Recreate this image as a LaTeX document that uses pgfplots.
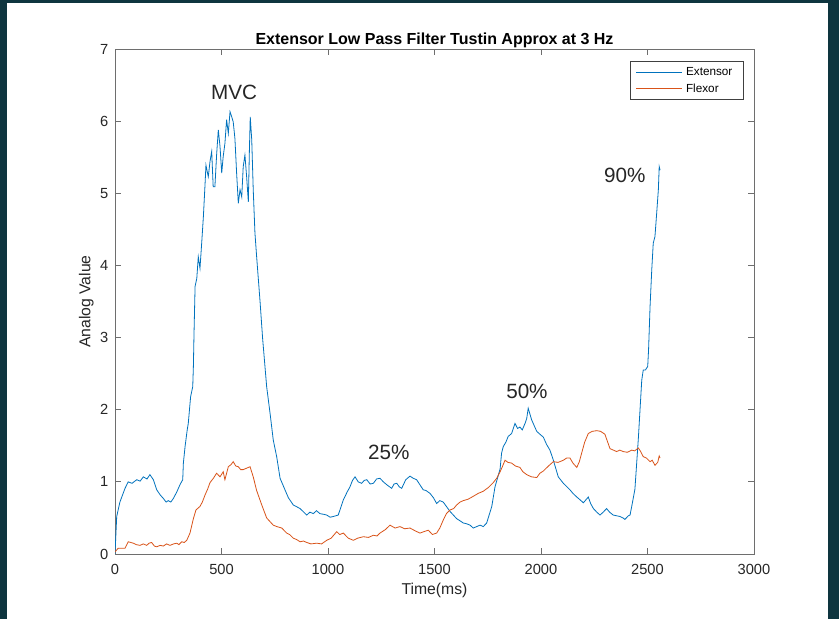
\documentclass[border=0pt]{standalone}
\usepackage{pgfplots}
\pgfplotsset{compat=1.18}
\usepackage{fontspec}
\setmainfont{Liberation Sans}
\definecolor{bgdark}{RGB}{14,53,63}
\definecolor{mblue}{RGB}{0,114,189}
\definecolor{morange}{RGB}{217,83,25}
\definecolor{axgray}{RGB}{110,110,110}
\begin{document}
\begin{tikzpicture}
\begin{scope}[x=0.75pt,y=-0.75pt]
\fill[bgdark] (0,0) rectangle (839,619);
\fill[white] (7,3) rectangle (828,619);
\end{scope}
\begin{axis}[
  at={(86.25pt,-415.5pt)}, anchor=south west,
  scale only axis, width=479.25pt, height=378.75pt,
  xmin=0, xmax=3000, ymin=0, ymax=7,
  xtick={0,500,...,3000}, ytick={0,1,...,7},
  tick align=inside, major tick length=4.5pt,
  axis line style={axgray, line width=0.6pt},
  every tick/.style={axgray, line width=0.6pt},
  /pgf/number format/assume math mode=true,
  /pgf/number format/set thousands separator={},
  tick label style={font=\fontsize{11}{12}\selectfont, text=black!85},
  xticklabel style={yshift=-4.3pt},
  yticklabel style={xshift=-1.5pt},
  title={\textbf{Extensor Low Pass Filter Tustin Approx at 3 Hz}},
  title style={font=\fontsize{12}{14}\selectfont, at={(axis description cs:0.5,1)}, anchor=base, inner sep=0pt, yshift=-2.25pt},
  xlabel={Time(ms)},
  xlabel style={font=\fontsize{11.8}{13}\selectfont, at={(axis description cs:0.5,0)}, anchor=center, yshift=-27pt, text=black!85},
  ylabel={Analog Value},
  ylabel style={font=\fontsize{11.8}{13}\selectfont, at={(axis description cs:-0.0449,0.5)}, anchor=center, text=black!85},
  legend style={at={(rel axis cs:0.9844,0.9762)}, anchor=north east, draw=black!75, line width=0.5pt,
    font=\fontsize{8.8}{10}\selectfont, inner xsep=4.5pt, inner ysep=3pt, row sep=2.5pt,
    nodes={inner sep=1pt, text height=6.5pt, text depth=1.5pt}},
  legend cell align=left,
  legend image code/.code={\draw[#1] (0pt,0pt) -- (34.5pt,0pt); \path (36pt,0pt);},
]
\addplot[mblue, line width=0.6pt] coordinates {
(0,0) (8,0.52) (23,0.72) (47,0.91) (62,1.00) (80,0.98) (102,1.03) (118,1.01) (133,1.07) (150,1.04) (164,1.10) (180,1.03)
(196,0.89) (212,0.82) (227,0.77) (240,0.72) (250,0.74) (262,0.72) (274,0.77) (290,0.86) (305,0.96) (318,1.03)
(321,1.26) (329,1.49) (339,1.72) (344,1.81) (355,2.18) (365,2.32) (368,2.60) (371,3.06) (376,3.71)
(384,3.82) (391,4.12) (399,3.96) (407,4.31) (415,4.68) (423,5.14) (427,5.39) (438,5.23) (446,5.44)
(454,5.58) (461,5.09) (469,5.09) (477,5.53) (485,5.88) (493,5.65) (501,5.28) (508,5.51) (516,5.69)
(524,6.02) (532,5.83) (540,6.13) (548,6.06) (555,5.99) (563,5.76) (571,5.28) (579,4.86) (587,5.05)
(595,4.95) (602,5.37) (610,5.53) (618,5.23) (626,4.88) (631,5.60) (635,6.06) (642,5.74) (649,5.05)
(657,4.45) (665,4.12) (681,3.50) (693,2.99) (712,2.32) (728,1.95) (743,1.58) (759,1.35) (775,1.05)
(798,0.89) (814,0.78) (837,0.68) (869,0.63) (900,0.54) (915,0.58) (931,0.56) (946,0.60) (962,0.56) (980,0.55) (994,0.54)
(1010,0.51) (1025,0.52) (1048,0.54) (1072,0.75) (1090,0.86) (1103,0.93) (1115,1.02) (1127,1.07) (1142,1.00) (1158,0.98) (1170,1.02) (1182,1.03)
(1198,0.97) (1213,0.98) (1228,1.04) (1244,1.05) (1260,1.00) (1276,0.96) (1299,0.91) (1310,0.97) (1323,0.98) (1335,0.93) (1346,0.91)
(1365,1.03) (1385,1.08) (1400,1.05) (1416,1.03) (1447,0.89) (1460,0.88) (1479,0.84) (1495,0.78) (1510,0.70) (1525,0.74) (1541,0.72)
(1573,0.59) (1604,0.49) (1620,0.46) (1635,0.43) (1650,0.42) (1667,0.40) (1682,0.36) (1698,0.38) (1714,0.40) (1729,0.38) (1745,0.43)
(1769,0.66) (1784,0.93) (1808,1.18) (1815,1.40) (1823,1.49) (1835,1.55) (1846,1.63) (1862,1.67) (1878,1.81)
(1890,1.74) (1901,1.76) (1912,1.72) (1925,1.81) (1933,1.88) (1940,2.02) (1956,1.86) (1968,1.78) (1980,1.70) (1995,1.66) (2011,1.62)
(2026,1.52) (2042,1.44) (2058,1.30) (2081,1.07) (2105,0.98) (2136,0.89) (2150,0.84) (2168,0.79) (2180,0.76) (2199,0.71)
(2222,0.79) (2233,0.70) (2246,0.63) (2262,0.58) (2277,0.54) (2292,0.58) (2308,0.63) (2322,0.58) (2339,0.54) (2355,0.53) (2371,0.52)
(2385,0.50) (2394,0.48) (2410,0.53) (2418,0.54) (2426,0.66) (2441,0.90) (2457,1.60) (2473,2.41) (2480,2.55) (2490,2.55)
(2501,2.60) (2505,2.83) (2512,3.43) (2520,3.94) (2527,4.31) (2535,4.40) (2543,4.72) (2551,5.05)
(2555,5.37) (2559,5.32)
};
\addlegendentry{Extensor\rule{3pt}{0pt}}
\addplot[morange, line width=0.6pt] coordinates {
(0,0.03) (15,0.08) (47,0.08) (62,0.17) (86,0.15) (100,0.13) (117,0.12) (133,0.14) (149,0.12) (160,0.15) (172,0.16) (185,0.11) (196,0.10)
(212,0.12) (227,0.11) (242,0.14) (258,0.12) (275,0.14) (290,0.15) (300,0.13) (313,0.17) (325,0.16) (337,0.19) (352,0.29)
(368,0.49) (380,0.61) (399,0.66) (410,0.72) (423,0.82) (435,0.90) (446,0.99) (462,1.05) (477,1.12)
(493,1.07) (508,1.14) (516,1.03) (532,1.21) (545,1.24) (555,1.28) (567,1.22) (579,1.21) (590,1.17) (602,1.17)
(618,1.19) (634,1.21) (649,1.07) (665,0.88) (689,0.68) (712,0.50) (743,0.40) (760,0.38) (783,0.36)
(806,0.29) (820,0.27) (837,0.22) (853,0.20) (869,0.17) (885,0.18) (900,0.16) (920,0.14) (947,0.15) (970,0.14) (994,0.19)
(1015,0.22) (1041,0.31) (1055,0.27) (1072,0.29) (1095,0.22) (1119,0.19) (1140,0.22) (1166,0.24) (1190,0.23) (1213,0.26)
(1230,0.25) (1244,0.29) (1270,0.34) (1291,0.40) (1315,0.36) (1338,0.38) (1360,0.35) (1385,0.36) (1410,0.32) (1432,0.29)
(1450,0.31) (1471,0.33) (1490,0.27) (1510,0.29) (1525,0.36) (1541,0.47) (1556,0.56) (1573,0.61) (1590,0.63) (1604,0.68)
(1620,0.72) (1635,0.74) (1658,0.76) (1682,0.80) (1705,0.84) (1729,0.87) (1752,0.92) (1776,0.99) (1792,1.05)
(1808,1.14) (1820,1.22) (1831,1.30) (1845,1.27) (1862,1.26) (1880,1.22) (1901,1.20) (1915,1.14) (1933,1.10)
(1955,1.07) (1980,1.06) (1995,1.12) (2011,1.15) (2035,1.22) (2058,1.28) (2080,1.27) (2105,1.30) (2120,1.33) (2136,1.33)
(2150,1.26) (2168,1.20) (2180,1.28) (2191,1.40) (2205,1.55) (2222,1.67) (2240,1.70) (2262,1.71) (2280,1.70) (2300,1.66)
(2312,1.56) (2324,1.46) (2340,1.44) (2355,1.42) (2370,1.44) (2386,1.42) (2405,1.41) (2426,1.44) (2440,1.43) (2457,1.47)
(2468,1.42) (2480,1.35) (2495,1.33) (2512,1.28) (2522,1.30) (2535,1.23) (2548,1.27) (2555,1.36) (2559,1.33)
};
\addlegendentry{Flexor}
\node[font=\fontsize{15.5}{17}\selectfont, text=black!85] at (axis cs:559,6.40) {MVC};
\node[font=\fontsize{15.5}{17}\selectfont, text=black!85] at (axis cs:1286,1.41) {25\%};
\node[font=\fontsize{15.5}{17}\selectfont, text=black!85] at (axis cs:1934,2.25) {50\%};
\node[font=\fontsize{15.5}{17}\selectfont, text=black!85] at (axis cs:2394,5.25) {90\%};
\end{axis}
\end{tikzpicture}
\end{document}
